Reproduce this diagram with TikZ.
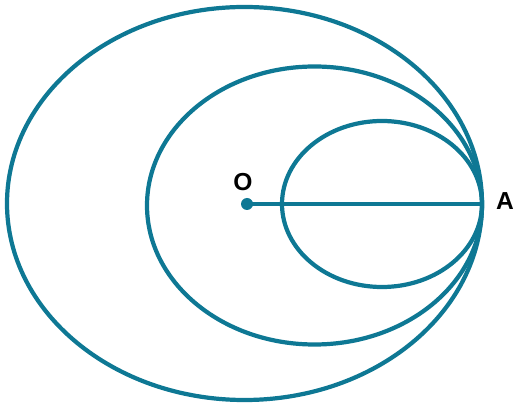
\documentclass[tikz,border=0pt]{standalone}
\usepackage{fontspec}
\setsansfont{Liberation Sans}
\usepackage{tikz}
\definecolor{orbitblue}{RGB}{14,120,148}

\begin{document}
\begin{tikzpicture}[x=0.02cm, y=-0.02cm, line width=2.4pt, draw=orbitblue,
    lbl/.style={font=\sffamily\bfseries\fontsize{14}{16}\selectfont, text=black}]
      \useasboundingbox (0,0) rectangle (519,404);

      % Draw ellipses
      \draw (244.5,203.5) ellipse [x radius=237.5, y radius=196.5];
      \draw (314.5,205.5) ellipse [x radius=167.5, y radius=139];
      \draw (382,204) ellipse [x radius=100, y radius=83];

      % Label the points
      \node[fill=orbitblue, circle, inner sep=0pt, minimum size=0.24cm] (O) at (247,204) {};
      \node[lbl] (Olbl) at (243,182) {O};
      \coordinate (A) at (482,204);
      \node[lbl] (Albl) at (505,201) {A};

      \draw (O.center) -- (A);
  \end{tikzpicture}
\end{document}
